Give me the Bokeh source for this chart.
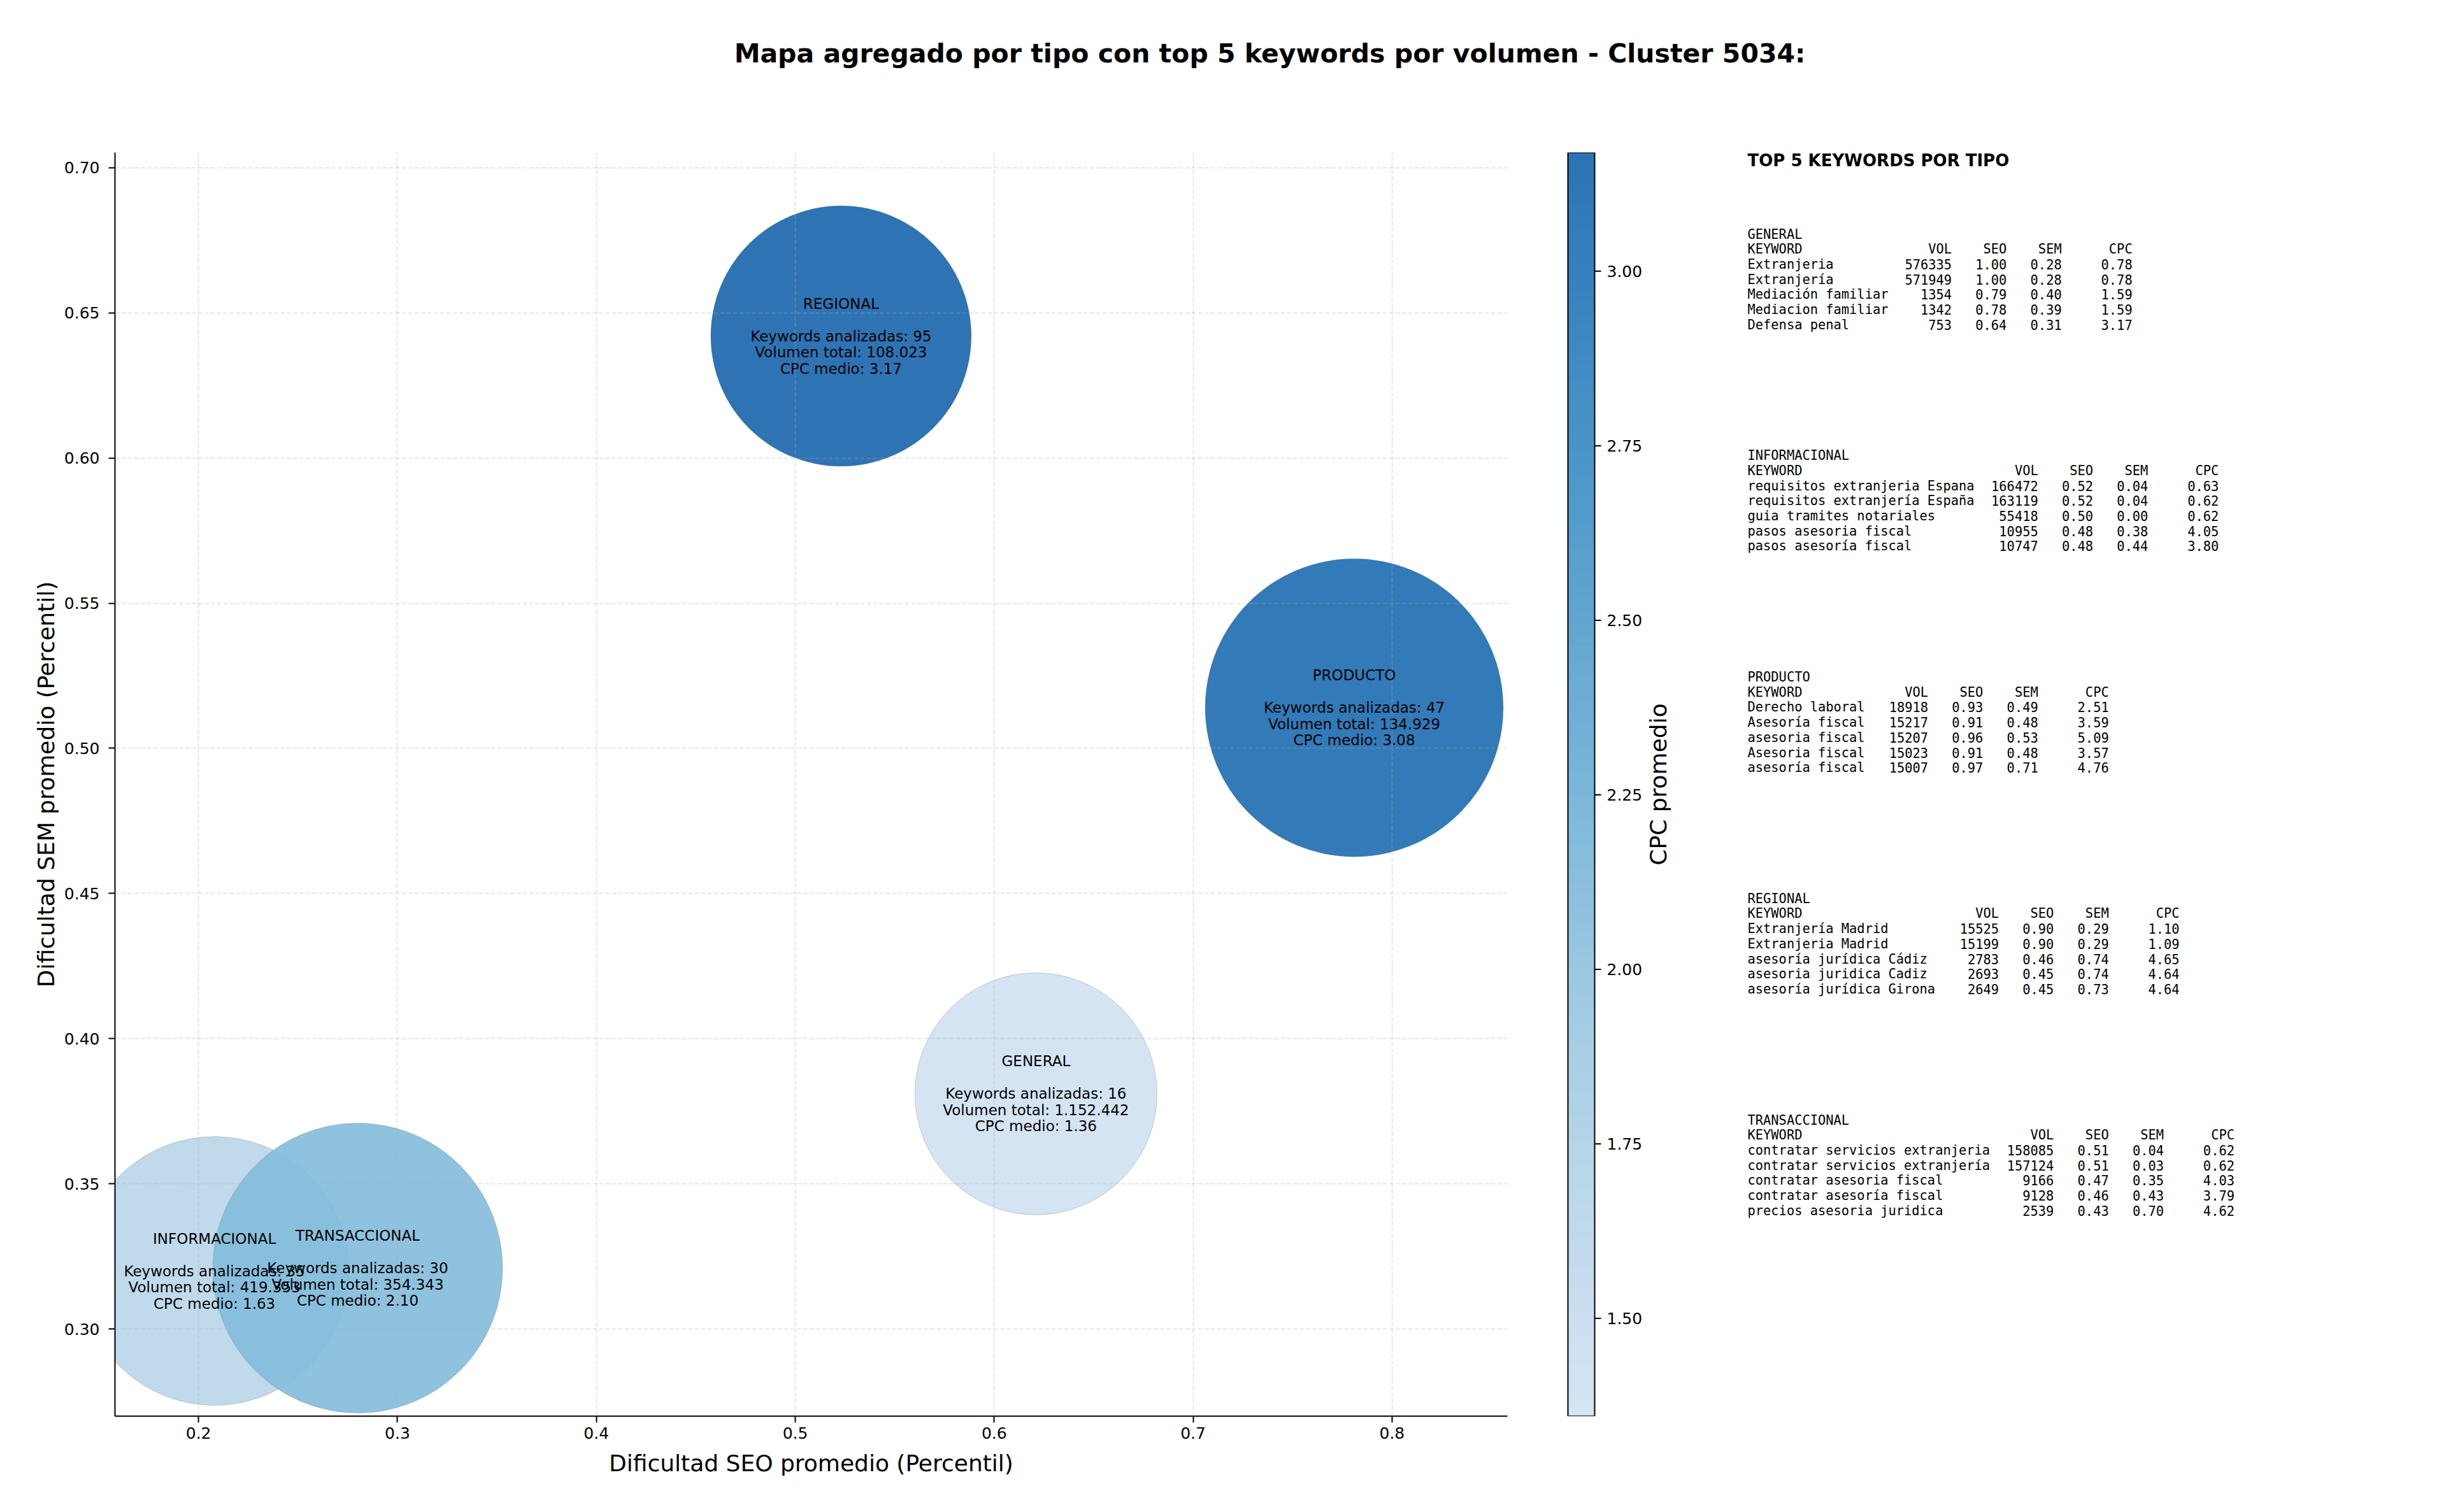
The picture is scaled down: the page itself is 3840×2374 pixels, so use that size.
import math
import numpy as np
from bokeh.plotting import figure
from bokeh.models import (Range1d, FixedTicker, NumeralTickFormatter, LinearColorMapper,
                          ColumnDataSource)
from bokeh.layouts import row, column
from bokeh.palettes import Blues256
from bokeh.transform import transform
from bokeh.core.properties import value
from bokeh.embed import file_html
from bokeh.resources import INLINE

# ---------------- data ----------------
title_text = "Mapa agregado por tipo con top 5 keywords por volumen - Cluster 5034:"
tipos = ["GENERAL", "INFORMACIONAL", "PRODUCTO", "REGIONAL", "TRANSACCIONAL"]
seo_avg = [0.621, 0.208, 0.781, 0.523, 0.280]
sem_avg = [0.381, 0.320, 0.514, 0.642, 0.321]
cpc_avg = [1.36, 1.63, 3.08, 3.17, 2.10]
n_keywords = [16, 35, 47, 95, 30]
vol_total = [1152442, 419353, 134929, 108023, 354343]
bubble_diam = [380, 422, 468, 409, 455]

x_ticks = [0.2, 0.3, 0.4, 0.5, 0.6, 0.7, 0.8]
y_ticks = [0.30, 0.35, 0.40, 0.45, 0.50, 0.55, 0.60, 0.65, 0.70]
cbar_ticks = [1.50, 1.75, 2.00, 2.25, 2.50, 2.75, 3.00]

kw_general = ["Extranjeria", "Extranjería", "Mediación familiar", "Mediacion familiar", "Defensa penal"]
vol_general = [576335, 571949, 1354, 1342, 753]
seo_general = [1.00, 1.00, 0.79, 0.78, 0.64]
sem_general = [0.28, 0.28, 0.40, 0.39, 0.31]
cpc_general = [0.78, 0.78, 1.59, 1.59, 3.17]

kw_info = ["requisitos extranjeria Espana", "requisitos extranjería España", "guia tramites notariales",
           "pasos asesoria fiscal", "pasos asesoría fiscal"]
vol_info = [166472, 163119, 55418, 10955, 10747]
seo_info = [0.52, 0.52, 0.50, 0.48, 0.48]
sem_info = [0.04, 0.04, 0.00, 0.38, 0.44]
cpc_info = [0.63, 0.62, 0.62, 4.05, 3.80]

kw_prod = ["Derecho laboral", "Asesoría fiscal", "asesoria fiscal", "Asesoria fiscal", "asesoría fiscal"]
vol_prod = [18918, 15217, 15207, 15023, 15007]
seo_prod = [0.93, 0.91, 0.96, 0.91, 0.97]
sem_prod = [0.49, 0.48, 0.53, 0.48, 0.71]
cpc_prod = [2.51, 3.59, 5.09, 3.57, 4.76]

kw_reg = ["Extranjería Madrid", "Extranjeria Madrid", "asesoría jurídica Cádiz",
          "asesoria juridica Cadiz", "asesoría jurídica Girona"]
vol_reg = [15525, 15199, 2783, 2693, 2649]
seo_reg = [0.90, 0.90, 0.46, 0.45, 0.45]
sem_reg = [0.29, 0.29, 0.74, 0.74, 0.73]
cpc_reg = [1.10, 1.09, 4.65, 4.64, 4.64]

kw_trans = ["contratar servicios extranjeria", "contratar servicios extranjería", "contratar asesoria fiscal",
            "contratar asesoría fiscal", "precios asesoria juridica"]
vol_trans = [158085, 157124, 9166, 9128, 2539]
seo_trans = [0.51, 0.51, 0.47, 0.46, 0.43]
sem_trans = [0.04, 0.03, 0.35, 0.43, 0.70]
cpc_trans = [0.62, 0.62, 4.03, 3.79, 4.62]

tables = [
    ("GENERAL", kw_general, vol_general, seo_general, sem_general, cpc_general),
    ("INFORMACIONAL", kw_info, vol_info, seo_info, sem_info, cpc_info),
    ("PRODUCTO", kw_prod, vol_prod, seo_prod, sem_prod, cpc_prod),
    ("REGIONAL", kw_reg, vol_reg, seo_reg, sem_reg, cpc_reg),
    ("TRANSACCIONAL", kw_trans, vol_trans, seo_trans, sem_trans, cpc_trans),
]

# ---------------- styles ----------------
FONT = value("DejaVu Sans")
MONO = value("DejaVu Sans Mono")
W, H = 3840, 2374
TITLE_H = 130
FRAME_TOP, FRAME_BOTTOM = 239, 2223
TICK_FS = "25px"
LABEL_FS = "36px"

vmin, vmax = min(cpc_avg), max(cpc_avg)
palette = [Blues256[255 - int(round(t * 255))] for t in np.linspace(0.2, 0.8, 256)]
mapper = LinearColorMapper(palette=palette, low=vmin, high=vmax)


def fmt_int(v):
    return f"{v:,}".replace(",", ".")


def blank(fig):
    fig.grid.visible = False
    fig.outline_line_color = None
    fig.background_fill_color = "white"
    fig.border_fill_color = "white"


def style_axis(ax):
    ax.axis_line_width = 2
    ax.axis_line_color = "black"
    ax.major_tick_line_width = 2
    ax.major_tick_line_color = "black"
    ax.major_tick_out = 10
    ax.major_tick_in = 0
    ax.minor_tick_out = 0
    ax.minor_tick_in = 0
    ax.major_label_standoff = 9
    ax.major_label_text_font = "DejaVu Sans"
    ax.major_label_text_font_size = TICK_FS
    ax.major_label_text_color = "black"
    ax.axis_label_text_font = "DejaVu Sans"
    ax.axis_label_text_font_size = LABEL_FS
    ax.axis_label_text_font_style = "normal"
    ax.axis_label_text_color = "black"


# ---------------- title ----------------
tf = figure(width=W, height=TITLE_H, x_range=Range1d(0, W), y_range=Range1d(TITLE_H, 0),
            x_axis_location=None, y_axis_location=None, toolbar_location=None,
            output_backend="svg", min_border=0)
blank(tf)
tf.text(x=[1993], y=[83], text=[title_text], text_font=FONT, text_font_size="41px",
        text_font_style="bold", text_align="center", text_baseline="middle", text_color="black")

# ---------------- main scatter ----------------
p = figure(width=2400, height=H - TITLE_H, x_range=Range1d(0.158, 0.858), y_range=Range1d(0.270, 0.7052),
           toolbar_location=None, output_backend="svg",
           min_border_left=180, min_border_right=34,
           min_border_top=FRAME_TOP - TITLE_H, min_border_bottom=H - FRAME_BOTTOM)
p.outline_line_color = None
p.background_fill_color = "white"
p.border_fill_color = "white"

src = ColumnDataSource(dict(x=seo_avg, y=sem_avg, cpc=cpc_avg, d=bubble_diam, tipo=tipos))
p.scatter(x="x", y="y", size="d", source=src, fill_color=transform("cpc", mapper), fill_alpha=0.9,
          line_color="#808080", line_alpha=0.35, line_width=1)

lx, ly, lt, lo = [], [], [], []
for t, sx, sy, n, v, c in zip(tipos, seo_avg, sem_avg, n_keywords, vol_total, cpc_avg):
    lines = [t, "", f"Keywords analizadas: {n}", f"Volumen total: {fmt_int(v)}", f"CPC medio: {c:.2f}"]
    for i, s in enumerate(lines):
        if not s:
            continue
        lx.append(sx); ly.append(sy); lt.append(s); lo.append((i - 2) * 25.5)
p.text(x="x", y="y", text="t", y_offset="o", source=ColumnDataSource(dict(x=lx, y=ly, t=lt, o=lo)),
       text_font=FONT, text_font_size="23px", text_align="center", text_baseline="middle",
       text_color="black")

for g in (p.xgrid, p.ygrid):
    g.grid_line_color = "#b0b0b0"
    g.grid_line_alpha = 0.3
    g.grid_line_dash = "7 3"
    g.grid_line_width = 2
    g.level = "annotation"
p.xgrid.ticker = FixedTicker(ticks=x_ticks)
p.ygrid.ticker = FixedTicker(ticks=y_ticks)

p.xaxis.ticker = FixedTicker(ticks=x_ticks)
p.xaxis.formatter = NumeralTickFormatter(format="0.0")
p.yaxis.ticker = FixedTicker(ticks=y_ticks)
p.yaxis.formatter = NumeralTickFormatter(format="0.00")
p.xaxis.axis_label = "Dificultad SEO promedio (Percentil)"
p.yaxis.axis_label = "Dificultad SEM promedio (Percentil)"
style_axis(p.xaxis[0])
style_axis(p.yaxis[0])
p.xaxis.major_label_standoff = 7
p.xaxis.axis_label_standoff = 15
p.yaxis.major_label_standoff = 14
p.yaxis.axis_label_standoff = 5

# ---------------- colorbar (drawn by hand so its label can sit beside it) ----------------
CB_FIG_W = 320
CB_LEFT, CB_W = 61, 42          # bar position inside this figure (px)
PAD = 3                          # px of room left of the bar for its outline
u = 1.0 / CB_W                   # one pixel in bar units
cb = figure(width=CB_FIG_W, height=H - TITLE_H,
            x_range=Range1d(-PAD * u, (CB_FIG_W - CB_LEFT) * u), y_range=Range1d(vmin, vmax),
            x_axis_location=None, y_axis_location=None, toolbar_location=None, output_backend="svg",
            min_border_left=CB_LEFT - PAD, min_border_right=0,
            min_border_top=FRAME_TOP - TITLE_H, min_border_bottom=H - FRAME_BOTTOM)
blank(cb)
grad = np.linspace(vmin, vmax, 512).reshape(512, 1)
cb.image(image=[grad], x=0, y=vmin, dw=1, dh=vmax - vmin, color_mapper=mapper, global_alpha=0.9)
cb.quad(left=[0], right=[1], bottom=[vmin], top=[vmax], fill_color=None, line_color="black", line_width=2)
nt = len(cbar_ticks)
cb.segment(x0=[1] * nt, x1=[1 + 10 * u] * nt, y0=cbar_ticks, y1=cbar_ticks, line_color="black", line_width=2)
cb.text(x=[1 + 19 * u] * nt, y=cbar_ticks, text=[f"{t:.2f}" for t in cbar_ticks], text_font=FONT,
        text_font_size=TICK_FS, text_align="left", text_baseline="middle", text_color="black")
cb.text(x=[1 + 100 * u], y=[(vmin + vmax) / 2], text=["CPC promedio"], angle=math.pi / 2,
        text_font=FONT, text_font_size=LABEL_FS, text_align="center", text_baseline="middle",
        text_color="black")

# ---------------- text panel ----------------
TX0 = 2720
FS_MONO = 20.4
CW = 12.33  # char advance (px)
LEFT = 2743
xr0 = (TX0 - LEFT) / CW
xr1 = (W - LEFT) / CW
txt = figure(width=W - TX0, height=H - TITLE_H, x_range=Range1d(xr0, xr1),
             y_range=Range1d(FRAME_BOTTOM, FRAME_TOP),
             x_axis_location=None, y_axis_location=None, toolbar_location=None,
             output_backend="svg", min_border_left=0, min_border_right=0,
             min_border_top=FRAME_TOP - TITLE_H, min_border_bottom=H - FRAME_BOTTOM)
blank(txt)
txt.text(x=[0], y=[251], text=["TOP 5 KEYWORDS POR TIPO"], text_font=FONT, text_font_size="26px",
         text_font_style="bold", text_align="left", text_baseline="middle", text_color="black")

LINE = 23.7
BLOCK0 = 367
BLOCK_STEP = 347.75
left_x, left_y, left_t = [], [], []
right_x, right_y, right_t = [], [], []
for b, (name, kws, vols, seos, sems, cpcs) in enumerate(tables):
    y0 = BLOCK0 + b * BLOCK_STEP
    w = max(len(k) for k in kws)
    cols = [w + 8, w + 15, w + 22, w + 31]
    left_x += [0, 0]; left_y += [y0, y0 + LINE]; left_t += [name, "KEYWORD"]
    for cx, h in zip(cols, ["VOL", "SEO", "SEM", "CPC"]):
        right_x.append(cx); right_y.append(y0 + LINE); right_t.append(h)
    for i, (k, v, s1, s2, c) in enumerate(zip(kws, vols, seos, sems, cpcs)):
        yy = y0 + (i + 2) * LINE
        left_x.append(0); left_y.append(yy); left_t.append(k)
        for cx, s in zip(cols, [str(v), f"{s1:.2f}", f"{s2:.2f}", f"{c:.2f}"]):
            right_x.append(cx); right_y.append(yy); right_t.append(s)

txt.text(x="x", y="y", text="t", source=ColumnDataSource(dict(x=left_x, y=left_y, t=left_t)),
         text_font=MONO, text_font_size=f"{FS_MONO}px", text_align="left", text_baseline="middle",
         text_color="black")
txt.text(x="x", y="y", text="t", source=ColumnDataSource(dict(x=right_x, y=right_y, t=right_t)),
         text_font=MONO, text_font_size=f"{FS_MONO}px", text_align="right", text_baseline="middle",
         text_color="black")

layout = column(tf, row(p, cb, txt, spacing=0), spacing=0)
open("out.html", "w").write(file_html(layout, INLINE))
